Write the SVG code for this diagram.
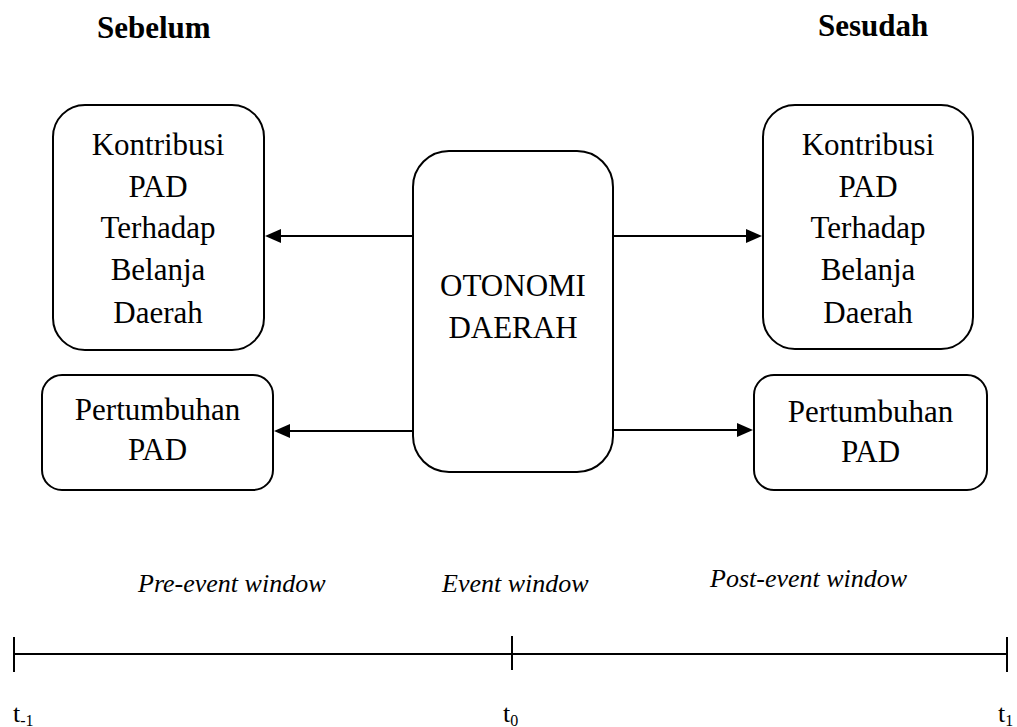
<svg xmlns="http://www.w3.org/2000/svg" width="1017" height="727" viewBox="0 0 1017 727">
<style>
.box{fill:#fff;stroke:#000;stroke-width:2}
.t{font-family:"Liberation Serif","Times New Roman",serif;font-size:31px;fill:#000;text-anchor:middle}
.h{font-family:"Liberation Serif","Times New Roman",serif;font-size:31px;font-weight:bold;fill:#000}
.i{font-family:"Liberation Serif","Times New Roman",serif;font-size:26px;font-style:italic;fill:#000}
.s{font-family:"Liberation Serif","Times New Roman",serif;font-size:26px;fill:#000}
.ln{stroke:#000;stroke-width:2;fill:none}
</style>
<defs>
<marker id="ah" viewBox="0 0 10 10" refX="10" refY="5" markerWidth="8" markerHeight="8" markerUnits="userSpaceOnUse" orient="auto" style="overflow:visible">
<path d="M0,0 L10,5 L0,10 Z" fill="#000" transform="scale(1.6)"/>
</marker>
</defs>
<rect width="1017" height="727" fill="#fff"/>
<text class="h" x="97" y="38">Sebelum</text>
<text class="h" x="818" y="36">Sesudah</text>

<g id="connectors">
<path class="ln" d="M413,236 L281,236"/>
<path d="M265,236 L281,229 L281,243 Z" fill="#000"/>
<path class="ln" d="M413,431 L290,431"/>
<path d="M274,431 L290,424 L290,438 Z" fill="#000"/>
<path class="ln" d="M613,236 L746,236"/>
<path d="M762,236 L746,229 L746,243 Z" fill="#000"/>
<path class="ln" d="M613,430 L737,430"/>
<path d="M753,430 L737,423 L737,437 Z" fill="#000"/>
</g>

<g id="kontribusi-sebelum">
<rect class="box" x="53" y="105" width="211" height="245" rx="32" ry="32"/>
<text class="t" x="158" y="155">Kontribusi</text>
<text class="t" x="158" y="197">PAD</text>
<text class="t" x="158" y="238">Terhadap</text>
<text class="t" x="158" y="280">Belanja</text>
<text class="t" x="158" y="323">Daerah</text>
</g>

<g id="otonomi-daerah">
<rect class="box" x="413" y="151" width="200" height="321" rx="36" ry="36"/>
<text class="t" x="513" y="296">OTONOMI</text>
<text class="t" x="513" y="338">DAERAH</text>
</g>

<g id="kontribusi-sesudah">
<rect class="box" x="763" y="105" width="210" height="244" rx="32" ry="32"/>
<text class="t" x="868" y="155">Kontribusi</text>
<text class="t" x="868" y="197">PAD</text>
<text class="t" x="868" y="238">Terhadap</text>
<text class="t" x="868" y="280">Belanja</text>
<text class="t" x="868" y="323">Daerah</text>
</g>

<g id="pertumbuhan-sebelum">
<rect class="box" x="42" y="375" width="231" height="115" rx="20" ry="20"/>
<text class="t" x="157.5" y="420">Pertumbuhan</text>
<text class="t" x="157.5" y="460">PAD</text>
</g>

<g id="pertumbuhan-sesudah">
<rect class="box" x="754" y="375" width="233" height="115" rx="20" ry="20"/>
<text class="t" x="870.5" y="422">Pertumbuhan</text>
<text class="t" x="870.5" y="462">PAD</text>
</g>

<text class="i" x="138" y="592">Pre-event window</text>
<text class="i" x="442" y="592">Event window</text>
<text class="i" x="710" y="587">Post-event window</text>

<g id="timeline">
<path class="ln" d="M14,654 L1007,654"/>
<path class="ln" stroke-width="2.5" d="M14,637 L14,672 M512,636 L512,670 M1007,637 L1007,672"/>
</g>
<text class="s" x="13" y="722">t<tspan font-size="16" dy="4">-1</tspan></text>
<text class="s" x="503" y="722">t<tspan font-size="16" dy="4">0</tspan></text>
<text class="s" x="998" y="722">t<tspan font-size="16" dy="4">1</tspan></text>
</svg>
